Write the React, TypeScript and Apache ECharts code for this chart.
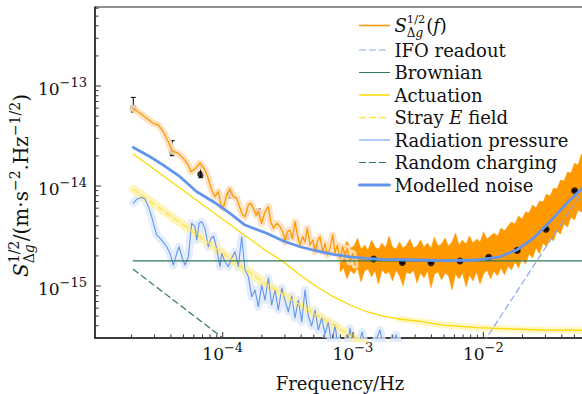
import React, { useEffect, useRef } from "react";
import * as echarts from "echarts";

const FONT = "DejaVu Serif";
const TXT = "#111111";

// Axis extents (data units)
const X_MIN = 1.047e-5;
const X_MAX = 6.03e-2;
const Y_MIN = 3.02e-16;
const Y_MAX = 6.17e-13;

// Tick labels (decade exponents)
const xTickExps = [-4, -3, -2];
const yTickExps = [-15, -14, -13];

// Measured ASD S^{1/2}_{Δg}(f), low-frequency part
const psdFreq = [2.06e-5, 2.32e-5, 2.61e-5, 2.93e-5, 3.21e-5, 3.5e-5, 3.82e-5, 4.1e-5, 4.56e-5, 4.99e-5, 5.45e-5, 5.71e-5, 6.13e-5, 6.7e-5, 7.31e-5, 7.75e-5, 8.23e-5, 8.73e-5, 9.25e-5, 9.65e-5, 1.01e-4, 1.073e-4, 1.138e-4, 1.206e-4, 1.28e-4, 1.358e-4, 1.424e-4, 1.483e-4, 1.573e-4, 1.64e-4, 1.718e-4, 1.8e-4, 1.876e-4, 1.992e-4, 2.112e-4, 2.239e-4, 2.336e-4, 2.446e-4, 2.597e-4, 2.753e-4, 2.887e-4, 3.007e-4, 3.132e-4, 3.285e-4, 3.422e-4, 3.589e-4, 3.738e-4, 3.92e-4, 4.11e-4, 4.28e-4, 4.46e-4, 4.68e-4, 4.91e-4, 5.11e-4, 5.32e-4, 5.58e-4, 5.85e-4, 6.1e-4, 6.35e-4, 6.66e-4, 6.99e-4, 7.28e-4, 7.58e-4, 7.95e-4, 8.34e-4, 8.68e-4, 9.04e-4, 9.48e-4, 9.95e-4, 1.036e-3];
const psdVal = [5.98e-14, 5.33e-14, 4.75e-14, 4.24e-14, 4.07e-14, 3.49e-14, 2.77e-14, 2.24e-14, 2.12e-14, 1.89e-14, 1.62e-14, 1.39e-14, 1.48e-14, 1.7e-14, 1.45e-14, 1.19e-14, 9.12e-15, 7.82e-15, 8.77e-15, 6.61e-15, 6.03e-15, 8.13e-15, 9.33e-15, 7.82e-15, 7.53e-15, 5.98e-15, 5.13e-15, 4.93e-15, 6.46e-15, 6.71e-15, 5.98e-15, 5.13e-15, 5.53e-15, 4.24e-15, 5.53e-15, 6.21e-15, 4.4e-15, 3.78e-15, 4.24e-15, 3.92e-15, 3.49e-15, 2.77e-15, 3.49e-15, 3.63e-15, 3.0e-15, 4.4e-15, 3.24e-15, 2.57e-15, 3.11e-15, 2.77e-15, 3.78e-15, 2.57e-15, 2.88e-15, 2.2e-15, 2.77e-15, 3.11e-15, 2.2e-15, 2.67e-15, 2.04e-15, 2.38e-15, 3.24e-15, 2.12e-15, 2.57e-15, 1.89e-15, 2.47e-15, 2.04e-15, 2.38e-15, 1.75e-15, 2.12e-15, 1.62e-15];

// Measured ASD, dense high-frequency part (upper / lower envelope of the trace)
const noiseFreq = [7.95e-4, 8.457e-4, 8.996e-4, 9.57e-4, 1.018e-3, 1.083e-3, 1.152e-3, 1.226e-3, 1.304e-3, 1.387e-3, 1.475e-3, 1.569e-3, 1.669e-3, 1.776e-3, 1.889e-3, 2.01e-3, 2.138e-3, 2.274e-3, 2.419e-3, 2.574e-3, 2.738e-3, 2.913e-3, 3.098e-3, 3.296e-3, 3.506e-3, 3.73e-3, 3.968e-3, 4.221e-3, 4.491e-3, 4.777e-3, 5.082e-3, 5.406e-3, 5.752e-3, 6.119e-3, 6.51e-3, 6.925e-3, 7.367e-3, 7.837e-3, 8.337e-3, 8.869e-3, 9.434e-3, 1.004e-2, 1.068e-2, 1.136e-2, 1.208e-2, 1.285e-2, 1.367e-2, 1.454e-2, 1.547e-2, 1.646e-2, 1.751e-2, 1.863e-2, 1.982e-2, 2.108e-2, 2.243e-2, 2.386e-2, 2.538e-2, 2.7e-2, 2.872e-2, 3.056e-2, 3.25e-2, 3.458e-2, 3.678e-2, 3.913e-2, 4.162e-2, 4.428e-2, 4.71e-2, 5.011e-2, 5.33e-2, 5.671e-2, 6.03e-2];
const noiseHi = [2.63e-15, 2.34e-15, 2.82e-15, 2.4e-15, 2.51e-15, 3.02e-15, 2.34e-15, 2.57e-15, 2.29e-15, 2.88e-15, 2.45e-15, 2.34e-15, 2.69e-15, 2.4e-15, 3.16e-15, 2.45e-15, 2.34e-15, 2.75e-15, 2.4e-15, 2.57e-15, 2.95e-15, 2.4e-15, 2.51e-15, 2.88e-15, 2.45e-15, 2.69e-15, 2.4e-15, 3.09e-15, 2.51e-15, 2.63e-15, 3.02e-15, 2.51e-15, 2.75e-15, 3.39e-15, 2.57e-15, 2.88e-15, 2.63e-15, 3.16e-15, 2.69e-15, 2.95e-15, 2.75e-15, 3.47e-15, 2.95e-15, 3.16e-15, 3.39e-15, 3.16e-15, 3.8e-15, 3.55e-15, 3.98e-15, 4.37e-15, 4.17e-15, 5.01e-15, 4.68e-15, 5.5e-15, 5.37e-15, 6.46e-15, 6.03e-15, 7.08e-15, 6.92e-15, 8.32e-15, 7.94e-15, 9.55e-15, 9.33e-15, 1.148e-14, 1.122e-14, 1.38e-14, 1.349e-14, 1.698e-14, 1.622e-14, 2.089e-14, 1.95e-14];
const noiseLo = [1.38e-15, 1.514e-15, 1.175e-15, 1.445e-15, 1.318e-15, 1.514e-15, 1.096e-15, 1.413e-15, 1.479e-15, 1.23e-15, 1.413e-15, 1.047e-15, 1.445e-15, 1.318e-15, 1.38e-15, 1.122e-15, 1.445e-15, 1.259e-15, 1.0e-15, 1.38e-15, 1.318e-15, 1.445e-15, 1.072e-15, 1.349e-15, 1.202e-15, 1.413e-15, 9.55e-16, 1.318e-15, 1.38e-15, 1.148e-15, 1.349e-15, 1.259e-15, 9.12e-16, 1.318e-15, 1.175e-15, 1.349e-15, 9.77e-16, 1.288e-15, 1.122e-15, 1.38e-15, 1.047e-15, 1.318e-15, 1.445e-15, 1.175e-15, 1.413e-15, 1.259e-15, 1.514e-15, 1.288e-15, 1.585e-15, 1.445e-15, 1.738e-15, 1.514e-15, 1.862e-15, 1.66e-15, 2.089e-15, 1.905e-15, 2.399e-15, 2.089e-15, 2.692e-15, 2.455e-15, 3.02e-15, 2.818e-15, 3.548e-15, 3.311e-15, 4.169e-15, 3.89e-15, 4.898e-15, 4.571e-15, 5.754e-15, 5.495e-15, 6.457e-15];

// Binned points with error bars
const dotFreq = [2.06e-5, 4.1e-5, 6.78e-5, 1.124e-4, 1.876e-4, 3.13e-4, 5.2e-4, 8.69e-4, 1.44e-3, 2.39e-3, 3.97e-3, 6.62e-3, 1.1e-2, 1.82e-2, 3.03e-2, 5.02e-2];
const dotVal = [6.0e-14, 2.2e-14, 1.31e-14, 8.45e-15, 5.46e-15, 3.11e-15, 2.44e-15, 2.07e-15, 1.86e-15, 1.72e-15, 1.71e-15, 1.78e-15, 1.94e-15, 2.27e-15, 3.69e-15, 8.97e-15];
const dotLo = [5.5e-14, 2.01e-14, 1.21e-14, 7.6e-15, 5.1e-15, 2.95e-15, 2.36e-15, 2.01e-15, 1.82e-15, 1.69e-15, 1.68e-15, 1.75e-15, 1.91e-15, 2.23e-15, 3.63e-15, 8.85e-15];
const dotHi = [7.7e-14, 2.84e-14, 1.56e-14, 9.48e-15, 5.9e-15, 3.3e-15, 2.53e-15, 2.13e-15, 1.9e-15, 1.75e-15, 1.74e-15, 1.81e-15, 1.97e-15, 2.31e-15, 3.75e-15, 9.1e-15];

// Radiation pressure
const radFreq = [2.06e-5, 2.2e-5, 2.39e-5, 2.53e-5, 2.69e-5, 2.85e-5, 3.11e-5, 3.4e-5, 3.72e-5, 3.94e-5, 4.18e-5, 4.44e-5, 4.62e-5, 4.9e-5, 5.14e-5, 5.45e-5, 5.78e-5, 6.13e-5, 6.32e-5, 6.58e-5, 6.9e-5, 7.31e-5, 7.75e-5, 8.13e-5, 8.5e-5, 8.99e-5, 9.53e-5, 9.82e-5, 1.041e-4, 1.104e-4, 1.172e-4, 1.243e-4, 1.318e-4, 1.399e-4, 1.483e-4, 1.573e-4, 1.669e-4, 1.77e-4, 1.876e-4, 1.992e-4, 2.112e-4, 2.239e-4, 2.377e-4, 2.52e-4, 2.672e-4, 2.837e-4, 3.007e-4, 3.188e-4, 3.385e-4, 3.589e-4, 3.804e-4, 4.04e-4, 4.28e-4, 4.54e-4, 4.82e-4, 5.11e-4, 5.42e-4, 5.75e-4, 6.1e-4, 6.46e-4, 6.86e-4, 7.28e-4, 7.72e-4, 8.68e-4, 9.48e-4, 1.036e-3, 1.173e-3, 1.3e-3, 1.612e-3, 1.792e-3, 2.14e-3, 2.39e-3];
const radVal = [6.76e-15, 7.41e-15, 7.67e-15, 7.41e-15, 6.21e-15, 4.93e-15, 3.24e-15, 2.88e-15, 2.47e-15, 2.12e-15, 1.62e-15, 2.12e-15, 2.47e-15, 1.89e-15, 1.62e-15, 1.96e-15, 4.24e-15, 3.92e-15, 2.88e-15, 4.24e-15, 4.4e-15, 3.78e-15, 2.47e-15, 3.0e-15, 3.16e-15, 2.38e-15, 1.56e-15, 2.12e-15, 1.75e-15, 1.56e-15, 1.91e-15, 2.2e-15, 1.56e-15, 3.11e-15, 1.45e-15, 1.24e-15, 7.82e-16, 9.12e-16, 6.21e-16, 1.02e-15, 7.24e-16, 1.2e-15, 6.46e-16, 9.12e-16, 5.75e-16, 9.55e-16, 7.24e-16, 5.5e-16, 7.94e-16, 4.79e-16, 7.24e-16, 4.37e-16, 9.12e-16, 5.01e-16, 3.98e-16, 5.75e-16, 3.63e-16, 4.79e-16, 3.31e-16, 4.37e-16, 2.57e-16, 4.07e-16, 2.29e-16, 1.8e-16, 3.8e-16, 1.8e-16, 3.47e-16, 1.8e-16, 3.63e-16, 1.8e-16, 3.24e-16, 1.8e-16];

// Stray E field
const strayFreq = [2.06e-5, 6.7e-5, 2.11e-4, 8.94e-4, 1.4e-3];
const strayVal = [9.27e-15, 3.1e-15, 1.06e-15, 3.37e-16, 2.35e-16];

// Actuation
const actFreq = [2.06e-5, 2.11e-4, 2.92e-4, 3.92e-4, 5.26e-4, 7.06e-4, 9.48e-4, 1.274e-3, 1.708e-3, 2.295e-3, 3.083e-3, 4.93e-3, 8.9e-3, 1.603e-2, 2.887e-2, 6.03e-2];
const actVal = [2.09e-14, 2.29e-15, 1.75e-15, 1.29e-15, 9.84e-16, 7.82e-16, 6.46e-16, 5.53e-16, 5.01e-16, 4.65e-16, 4.47e-16, 4.07e-16, 3.83e-16, 3.72e-16, 3.63e-16, 3.61e-16];

// Brownian
const brownFreq = [2.06e-5, 6.03e-2];
const brownVal = [1.78e-15, 1.78e-15];

// Random charging
const chargeFreq = [2.06e-5, 1.2e-4];
const chargeVal = [1.47e-15, 2.52e-16];

// IFO readout
const ifoFreq = [1.0e-2, 2.57e-2, 6.03e-2];
const ifoVal = [2.7e-16, 1.78e-15, 9.7e-15];

// Modelled noise
const modFreq = [2.06e-5, 2.77e-5, 3.5e-5, 4.7e-5, 6.32e-5, 8.47e-5, 1.138e-4, 1.483e-4, 2.176e-4, 2.918e-4, 3.92e-4, 5.26e-4, 7.06e-4, 9.48e-4, 1.274e-3, 1.708e-3, 3.083e-3, 4.93e-3, 8.9e-3, 1.344e-2, 1.804e-2, 2.42e-2, 3.25e-2, 4.365e-2, 6.03e-2];
const modVal = [2.43e-14, 1.96e-14, 1.62e-14, 1.24e-14, 8.77e-15, 6.97e-15, 5.33e-15, 4.07e-15, 3.37e-15, 2.82e-15, 2.47e-15, 2.24e-15, 2.07e-15, 1.96e-15, 1.89e-15, 1.85e-15, 1.82e-15, 1.79e-15, 1.82e-15, 1.96e-15, 2.29e-15, 3.0e-15, 4.4e-15, 6.71e-15, 1.01e-14];

// Legend
const legendNames = ["S", "IFO readout", "Brownian", "Actuation", "Stray E field", "Radiation pressure", "Random charging", "Modelled noise"];
const legendLabels = [
  "{it|S}{sup0|1/2}{sub|Δ}{subi|g}{t|(}{it|f}{t|)}",
  "{t|IFO readout}",
  "{t|Brownian}",
  "{t|Actuation}",
  "{t|Stray }{it|E}{t| field}",
  "{t|Radiation pressure}",
  "{t|Random charging}",
  "{t|Modelled noise}",
];
const legendWidths = [1.3, 1.2, 1.2, 1.3, 1.3, 1.2, 1.2, 3];

const C_ORANGE = "#ff9900";
const C_ORANGE_BAND = "#fde0c0";
const C_BLUE = "#6495ed";
const C_BLUE_BAND = "#dde8fc";
const C_IFO = "#84a8f0";
const C_GREEN = "#2e7a56";
const C_GOLD = "#ffd700";
const C_STRAY = "#ffe34d";
const C_YEL_BAND = "#fff1a0";
const DASH = [6, 4];

const zip = (a: number[], b: number[]) => a.map((v, i) => [v, b[i]]);

const line = (name: string, fx: number[], fy: number[], color: string, width: number, type: any = "solid", opacity = 1) => ({
  type: "line",
  name,
  data: zip(fx, fy),
  symbol: "none",
  showSymbol: false,
  silent: true,
  clip: true,
  animation: false,
  lineStyle: { color, width, type, opacity, cap: "round", join: "round" },
  itemStyle: { color },
});

const r = (o: any) => ({ fontFamily: FONT, color: TXT, align: "left", ...o });

function buildOption() {
  const tickData: number[][] = [];
  for (let e = -6; e <= -1; e++) {
    for (let m = 1; m <= 9; m++) {
      const v = m * Math.pow(10, e);
      if (v > X_MIN * 1.002 && v < X_MAX * 0.998) tickData.push([v, Y_MIN, 0, m === 1 ? 1 : 0]);
    }
  }
  for (let e = -17; e <= -12; e++) {
    for (let m = 1; m <= 9; m++) {
      const v = m * Math.pow(10, e);
      if (v > Y_MIN * 1.002 && v < Y_MAX * 0.998) tickData.push([X_MIN, v, 1, m === 1 ? 1 : 0]);
    }
  }

  const fmt = (exps: number[]) => (v: number) => {
    const e = Math.log10(v);
    const k = Math.round(e);
    if (Math.abs(e - k) > 1e-6 || exps.indexOf(k) < 0) return "";
    return "{b|10}{sup|−" + Math.abs(k) + "}";
  };
  const tickRich = {
    b: r({ fontSize: 17, lineHeight: 24 }),
    sup: r({ fontSize: 13, lineHeight: 13, height: 11, verticalAlign: "top" }),
  };

  const legendRich = {
    t: r({ fontSize: 18, lineHeight: 22 }),
    it: r({ fontSize: 18, lineHeight: 22, fontStyle: "italic" }),
    sup0: r({ fontSize: 11.5, lineHeight: 12, height: 8, verticalAlign: "top", width: 0 }),
    sub: r({ fontSize: 12, lineHeight: 12, height: 8, verticalAlign: "bottom" }),
    subi: r({ fontSize: 12, lineHeight: 12, height: 8, verticalAlign: "bottom", fontStyle: "italic", padding: [0, 3, 0, 0] }),
  };

  const yNameRich = {
    t: r({ fontSize: 20, lineHeight: 22 }),
    it: r({ fontSize: 20, lineHeight: 22, fontStyle: "italic" }),
    sup0: r({ fontSize: 14, lineHeight: 14, height: 7, verticalAlign: "top", width: 0 }),
    sup: r({ fontSize: 14, lineHeight: 14, height: 10, verticalAlign: "top" }),
    sub: r({ fontSize: 14, lineHeight: 14, height: 7, verticalAlign: "bottom" }),
    subi: r({ fontSize: 14, lineHeight: 14, height: 7, verticalAlign: "bottom", fontStyle: "italic", padding: [0, 3, 0, 0] }),
  };

  const xNameRich = { t: r({ fontSize: 18, lineHeight: 22 }) };

  const noiseData = noiseFreq.map((f, i) => [f, noiseHi[i], noiseLo[i]]);

  const series: any[] = [
    line("psdBand", psdFreq, psdVal, C_ORANGE_BAND, 7, "solid", 0.9),
    line("radBand", radFreq, radVal, C_BLUE_BAND, 8, "solid", 0.8),
    line("strayBand", strayFreq, strayVal, C_YEL_BAND, 9, "solid", 0.7),
    line("actBand", actFreq.slice(9), actVal.slice(9), C_YEL_BAND, 7, "solid", 0.6),
    line("Radiation pressure", radFreq, radVal, C_BLUE, 1.1),
    line("Stray E field", strayFreq, strayVal, C_STRAY, 1.3, DASH),
    line("Actuation", actFreq, actVal, C_GOLD, 1.3),
    line("Random charging", chargeFreq, chargeVal, C_GREEN, 1.2, DASH),
    {
      type: "custom",
      name: "noiseBand",
      coordinateSystem: "cartesian2d",
      data: noiseData,
      encode: { x: 0, y: [1, 2] },
      clip: true,
      silent: true,
      renderItem: (params: any, api: any) => {
        if (params.dataIndex !== 0) return null;
        const pts: number[][] = [];
        for (let i = 0; i < noiseData.length; i++) pts.push(api.coord([noiseData[i][0], noiseData[i][1]]));
        for (let i = noiseData.length - 1; i >= 0; i--) pts.push(api.coord([noiseData[i][0], noiseData[i][2]]));
        return { type: "polygon", shape: { points: pts }, style: { fill: C_ORANGE, stroke: C_ORANGE, lineWidth: 0.5 } };
      },
    },
    line("S", psdFreq, psdVal, C_ORANGE, 1.3),
    line("Brownian", brownFreq, brownVal, C_GREEN, 1.2),
    line("IFO readout", ifoFreq, ifoVal, C_IFO, 1.2, DASH),
    line("Modelled noise", modFreq, modVal, C_BLUE, 2.8),
    {
      type: "custom",
      name: "errorBars",
      coordinateSystem: "cartesian2d",
      data: dotFreq.map((f, i) => [f, dotLo[i], dotHi[i]]),
      encode: { x: 0, y: [1, 2] },
      silent: true,
      renderItem: (params: any, api: any) => {
        const f = api.value(0);
        const a = api.coord([f, api.value(1)]);
        const b = api.coord([f, api.value(2)]);
        const st = { stroke: "#000", lineWidth: 1 };
        return {
          type: "group",
          children: [
            { type: "line", shape: { x1: a[0], y1: a[1], x2: b[0], y2: b[1] }, style: st },
            { type: "line", shape: { x1: a[0] - 2.5, y1: a[1], x2: a[0] + 2.5, y2: a[1] }, style: st },
            { type: "line", shape: { x1: b[0] - 2.5, y1: b[1], x2: b[0] + 2.5, y2: b[1] }, style: st },
          ],
        };
      },
    },
    {
      type: "scatter",
      name: "bins",
      data: zip(dotFreq, dotVal),
      symbol: "circle",
      symbolSize: 7,
      silent: true,
      itemStyle: { color: "#000" },
    },
    {
      type: "custom",
      name: "ticks",
      coordinateSystem: "cartesian2d",
      data: tickData,
      encode: { x: 0, y: 1 },
      silent: true,
      z: 10,
      renderItem: (params: any, api: any) => {
        const p = api.coord([api.value(0), api.value(1)]);
        const kind = api.value(2);
        const len = api.value(3) ? 6 : 3.5;
        const shape = kind === 0
          ? { x1: p[0], y1: p[1], x2: p[0], y2: p[1] - len }
          : { x1: p[0], y1: p[1], x2: p[0] + len, y2: p[1] };
        return { type: "line", shape, style: { stroke: "#333", lineWidth: 1 } };
      },
    },
  ];

  return {
    animation: false,
    backgroundColor: "#ffffff",
    textStyle: { fontFamily: FONT },
    grid: {
      left: 95,
      top: 7,
      right: -3,
      bottom: 56,
      show: true,
      borderColor: "#222",
      borderWidth: 1,
      containLabel: false,
      outerBoundsMode: "none",
    },
    legend: {
      show: true,
      orient: "vertical",
      left: 358,
      top: 12.5,
      padding: 0,
      itemGap: 0.5,
      itemWidth: 30,
      itemHeight: 10,
      selectedMode: false,
      itemStyle: { opacity: 0, borderWidth: 0 },
      data: legendNames.map((n, i) => ({
        name: n,
        itemStyle: { opacity: 0, borderWidth: 0 },
        lineStyle: { width: legendWidths[i], opacity: 1 },
      })),
      formatter: (n: string) => legendLabels[legendNames.indexOf(n)],
      textStyle: { fontFamily: FONT, fontSize: 18, color: TXT, lineHeight: 22, rich: legendRich },
    },
    xAxis: {
      type: "log",
      logBase: 10,
      min: X_MIN,
      max: X_MAX,
      axisLine: { show: true, onZero: false, lineStyle: { color: "#222", width: 1.5 } },
      axisTick: { show: false },
      minorTick: { show: false },
      splitLine: { show: false },
      axisLabel: {
        formatter: fmt(xTickExps),
        margin: 3.5,
        fontFamily: FONT,
        fontSize: 17,
        color: TXT,
        lineHeight: 24,
        rich: tickRich,
      },
      name: "{t|Frequency/Hz}",
      nameLocation: "middle",
      nameGap: 34,
      nameMoveOverlap: false,
      nameTextStyle: { fontFamily: FONT, fontSize: 18, color: TXT, lineHeight: 22, rich: xNameRich },
    },
    yAxis: {
      type: "log",
      logBase: 10,
      min: Y_MIN,
      max: Y_MAX,
      axisLine: { show: true, onZero: false, lineStyle: { color: "#222", width: 1.5 } },
      axisTick: { show: false },
      minorTick: { show: false },
      splitLine: { show: false },
      axisLabel: {
        formatter: fmt(yTickExps),
        margin: 8,
        padding: [5, 0, 0, 0],
        fontFamily: FONT,
        fontSize: 17,
        color: TXT,
        lineHeight: 24,
        rich: tickRich,
      },
      name: "{it|S}{sup0|1/2}{sub|Δ}{subi|g}{t|/(m·s}{sup|−2}{t|.Hz}{sup|−1/2}{t|)}",
      nameLocation: "middle",
      nameGap: 63,
      nameMoveOverlap: false,
      nameTextStyle: {
        fontFamily: FONT,
        fontSize: 20,
        color: TXT,
        lineHeight: 22,
        padding: [0, 26, 0, 0],
        rich: yNameRich,
      },
    },
    series,
  };
}

export default function App() {
  const ref = useRef<HTMLDivElement>(null);
  useEffect(() => {
    if (!ref.current) return;
    const chart = echarts.init(ref.current, undefined, { renderer: "svg" });
    chart.setOption(buildOption() as any);
    return () => chart.dispose();
  }, []);
  return (
    <div
      ref={ref}
      style={{ position: "fixed", left: 0, top: 0, width: 582, height: 394, background: "#fff" }}
    />
  );
}
